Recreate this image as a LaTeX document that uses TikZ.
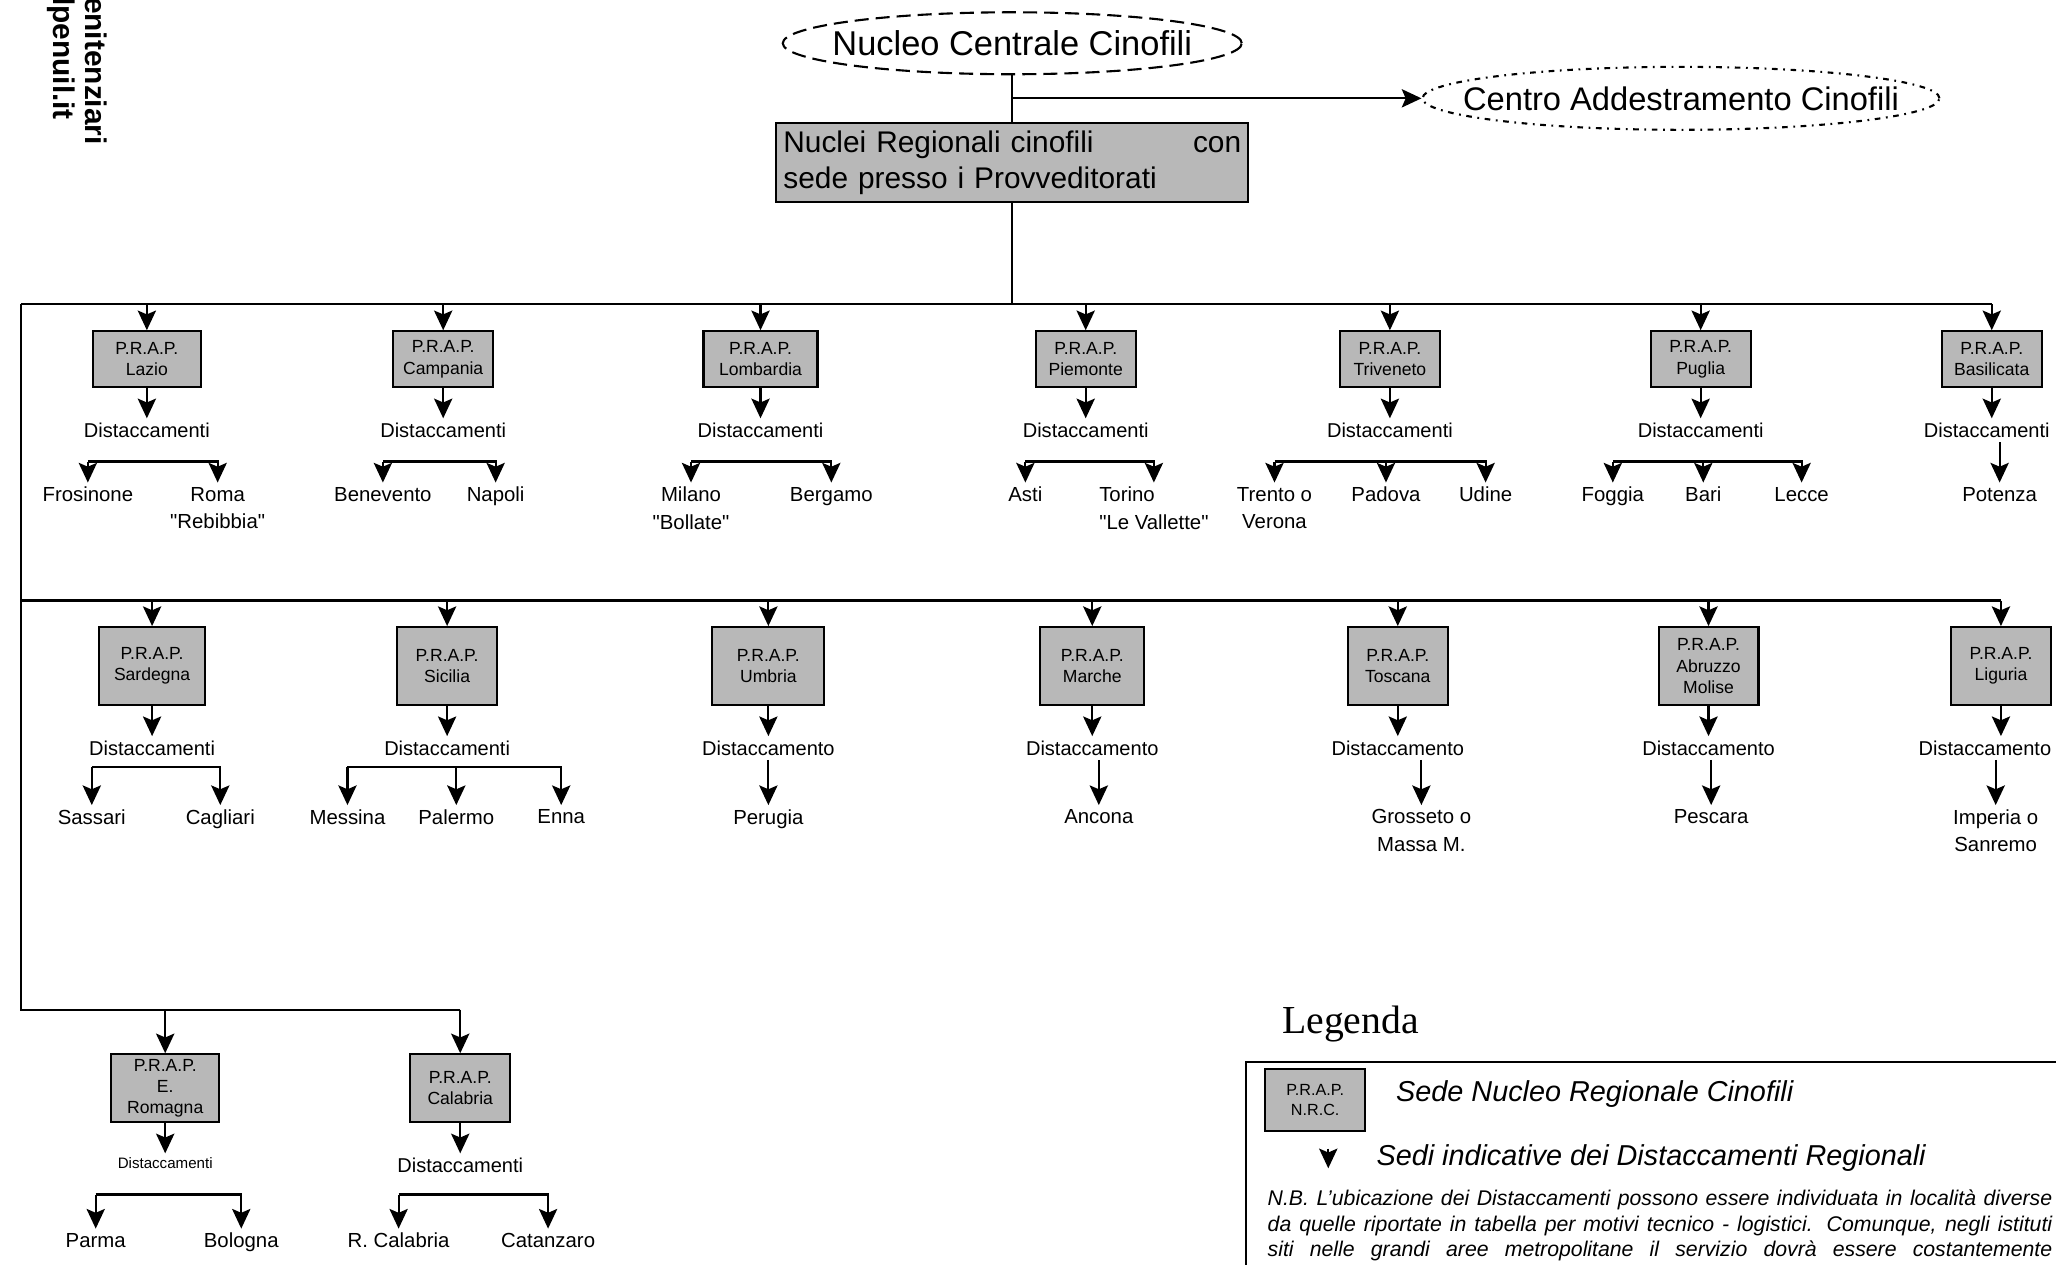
\documentclass[tikz,border=0pt]{standalone}
\usepackage{fontspec}
\setmainfont{Liberation Sans}
\newfontfamily\legendafont{Liberation Serif}
\usetikzlibrary{arrows.meta,positioning,shapes.geometric}

\begin{document}
\begin{tikzpicture}[
  x=0.1312mm, y=-0.1312mm,
  line width=0.6pt,
  arr/.style={-{Stealth[length=5.6pt,width=5.2pt,inset=1.1pt]},line width=0.6pt},
  prap/.style={draw,fill=black!28,align=center,inner sep=1pt,minimum width=1.0cm,minimum height=0.56cm,font=\fontsize{5}{6}\selectfont},
  tall/.style={minimum height=0.78cm},
  mid/.style={minimum height=0.68cm},
  dist/.style={inner sep=1pt,font=\fontsize{5.7}{7}\selectfont},
  city/.style={anchor=north,align=center,inner sep=1pt,font=\fontsize{5.8}{7.8}\selectfont},
  ell/.style={ellipse,draw,inner ysep=0pt},
  wmark/.style={rotate=-90,anchor=west,inner sep=0pt,font=\bfseries\fontsize{8.5}{10}\selectfont},
  node distance=0.3cm
]
\useasboundingbox (0,0) rectangle (1568,964);
\clip (0,0) rectangle (1568,964);

\node[wmark] (wm1) at (73,-3) {enitenziari};
\node[wmark] (wm2) at (47,-3) {lpenuil.it};

\node[ell,inner xsep=-5pt,dash pattern=on 4pt off 2pt,minimum height=0.62cm,font=\fontsize{9.8}{12}\selectfont] (ncc) at (772,33) {Nucleo Centrale Cinofili};
\node[ell,inner xsep=-10pt,dash pattern=on 1.6pt off 1.6pt on 0.5pt off 1.6pt,minimum height=0.63cm,font=\fontsize{9.3}{11}\selectfont] (cac) at (1282,75) {Centro Addestramento Cinofili};
\node[draw,fill=black!28,text width=4.58cm,minimum height=0.72cm,inner sep=2pt,align=left,font=\fontsize{8.5}{10.4}\selectfont] (nrc) at (772,124) {Nuclei Regionali cinofili\hfill con\\sede presso i Provveditorati};
\draw (ncc) -- (nrc);
\coordinate (cacj) at (ncc.south |- cac.west);
\draw[arr] (cacj) -- (cac);

\coordinate (bus1w) at (16,232);
\coordinate (bus2w) at (16,458);
\coordinate (bus3w) at (16,770);
\coordinate (sub1) at (0,352);
\coordinate (sub2) at (0,585);
\coordinate (sub3) at (0,911);

\node[prap,minimum width=1.08cm] (lazio) at (112,274) {P.R.A.P.\\Lazio};
\node[prap] (campania) at (338,274) {P.R.A.P.\\Campania};
\node[prap,minimum width=1.14cm] (lombardia) at (580,274) {P.R.A.P.\\Lombardia};
\node[prap] (piemonte) at (828,274) {P.R.A.P.\\Piemonte};
\node[prap] (triveneto) at (1060,274) {P.R.A.P.\\Triveneto};
\node[prap] (puglia) at (1297,274) {P.R.A.P.\\Puglia};
\node[prap] (basilicata) at (1519,274) {P.R.A.P.\\Basilicata};

\node[dist,below=of lazio] (dlazio) {Distaccamenti};
\node[dist,below=of campania] (dcampania) {Distaccamenti};
\node[dist,below=of lombardia] (dlombardia) {Distaccamenti};
\node[dist,below=of piemonte] (dpiemonte) {Distaccamenti};
\node[dist,below=of triveneto] (dtriveneto) {Distaccamenti};
\node[dist,below=of puglia] (dpuglia) {Distaccamenti};
\node[dist,below=of basilicata,xshift=-0.05cm] (dbasilicata) {Distaccamenti};

\node[city] (frosinone) at (67,368) {Frosinone};
\node[city] (roma) at (166,368) {Roma\\\textquotedbl Rebibbia\textquotedbl};
\node[city] (benevento) at (292,368) {Benevento};
\node[city] (napoli) at (378,368) {Napoli};
\node[city] (milano) at (527,368) {Milano\\\textquotedbl Bollate\textquotedbl};
\node[city] (bergamo) at (634,368) {Bergamo};
\node[city] (asti) at (782,368) {Asti};
\node[city,align=left] (torino) at (880,368) {Torino\\\textquotedbl Le Vallette\textquotedbl};
\node[city] (trento) at (972,368) {Trento o\\Verona};
\node[city] (padova) at (1057,368) {Padova};
\node[city] (udine) at (1133,368) {Udine};
\node[city] (foggia) at (1230,368) {Foggia};
\node[city] (bari) at (1299,368) {Bari};
\node[city] (lecce) at (1374,368) {Lecce};
\node[city] (potenza) at (1525,368) {Potenza};

\node[prap,tall,minimum width=1.06cm] (sardegna) at (116,508) {P.R.A.P.\\Sardegna};
\node[prap,tall] (sicilia) at (341,508) {P.R.A.P.\\Sicilia};
\node[prap,tall,minimum width=1.12cm] (umbria) at (586,508) {P.R.A.P.\\Umbria};
\node[prap,tall,minimum width=1.04cm] (marche) at (833,508) {P.R.A.P.\\Marche};
\node[prap,tall] (toscana) at (1066,508) {P.R.A.P.\\Toscana};
\node[prap,tall] (abruzzo) at (1303,508) {P.R.A.P.\\Abruzzo\\Molise};
\node[prap,tall] (liguria) at (1526,508) {P.R.A.P.\\Liguria};

\node[dist,below=of sardegna] (dsardegna) {Distaccamenti};
\node[dist,below=of sicilia] (dsicilia) {Distaccamenti};
\node[dist,below=of umbria] (dumbria) {Distaccamento};
\node[dist,below=of marche] (dmarche) {Distaccamento};
\node[dist,below=of toscana] (dtoscana) {Distaccamento};
\node[dist,below=of abruzzo] (dabruzzo) {Distaccamento};
\node[dist,below=of liguria,xshift=-0.16cm] (dliguria) {Distaccamento};

\node[city] (sassari) at (70,614) {Sassari};
\node[city] (cagliari) at (168,614) {Cagliari};
\node[city] (messina) at (265,614) {Messina};
\node[city] (palermo) at (348,614) {Palermo};
\node[city] (enna) at (428,614) {Enna};
\node[city] (perugia) at (586,614) {Perugia};
\node[city] (ancona) at (838,614) {Ancona};
\node[city] (grosseto) at (1084,614) {Grosseto o\\Massa M.};
\node[city] (pescara) at (1305,614) {Pescara};
\node[city] (imperia) at (1522,614) {Imperia o\\Sanremo};

\node[prap,mid,minimum width=1.08cm] (eromagna) at (126,830) {P.R.A.P.\\E.\\Romagna};
\node[prap,mid] (calabria) at (351,830) {P.R.A.P.\\Calabria};
\node[dist,below=of eromagna,font=\fontsize{4.3}{5}\selectfont] (deromagna) {Distaccamenti};
\node[dist,below=of calabria] (dcalabria) {Distaccamenti};
\node[city] (parma) at (73,937) {Parma};
\node[city] (bologna) at (184,937) {Bologna};
\node[city] (rcalabria) at (304,937) {R. Calabria};
\node[city] (catanzaro) at (418,937) {Catanzaro};

\draw (nrc) -- (nrc |- bus1w);
\draw (bus1w) -- (basilicata |- bus1w);
\draw (bus1w) -- (bus3w) -- (calabria |- bus3w);
\draw (bus2w) -- (liguria |- bus2w);

\draw[arr] (lazio |- bus1w) -- (lazio);
\draw[arr] (campania |- bus1w) -- (campania);
\draw[arr] (lombardia |- bus1w) -- (lombardia);
\draw[arr] (piemonte |- bus1w) -- (piemonte);
\draw[arr] (triveneto |- bus1w) -- (triveneto);
\draw[arr] (puglia |- bus1w) -- (puglia);
\draw[arr] (basilicata |- bus1w) -- (basilicata);
\draw[arr] (sardegna |- bus2w) -- (sardegna);
\draw[arr] (sicilia |- bus2w) -- (sicilia);
\draw[arr] (umbria |- bus2w) -- (umbria);
\draw[arr] (marche |- bus2w) -- (marche);
\draw[arr] (toscana |- bus2w) -- (toscana);
\draw[arr] (abruzzo |- bus2w) -- (abruzzo);
\draw[arr] (liguria |- bus2w) -- (liguria);
\draw[arr] (eromagna |- bus3w) -- (eromagna);
\draw[arr] (calabria |- bus3w) -- (calabria);

\draw[arr] (lazio) -- (dlazio);
\draw[arr] (campania) -- (dcampania);
\draw[arr] (lombardia) -- (dlombardia);
\draw[arr] (piemonte) -- (dpiemonte);
\draw[arr] (triveneto) -- (dtriveneto);
\draw[arr] (puglia) -- (dpuglia);
\draw[arr] (basilicata) -- (basilicata |- dbasilicata.north);
\draw[arr] (sardegna) -- (dsardegna);
\draw[arr] (sicilia) -- (dsicilia);
\draw[arr] (umbria) -- (dumbria);
\draw[arr] (marche) -- (dmarche);
\draw[arr] (toscana) -- (dtoscana);
\draw[arr] (abruzzo) -- (dabruzzo);
\draw[arr] (liguria) -- (liguria |- dliguria.north);
\draw[arr] (eromagna) -- (deromagna);
\draw[arr] (calabria) -- (dcalabria);

\draw[arr] (frosinone |- sub1) -- (frosinone);
\draw[arr] (frosinone |- sub1) -| (roma);
\draw[arr] (benevento |- sub1) -- (benevento);
\draw[arr] (benevento |- sub1) -| (napoli);
\draw[arr] (milano |- sub1) -- (milano);
\draw[arr] (milano |- sub1) -| (bergamo);
\draw[arr] (asti |- sub1) -- (asti);
\draw[arr] (asti |- sub1) -| (torino);
\draw[arr] (trento |- sub1) -- (trento);
\draw[arr] (trento |- sub1) -| (udine);
\draw[arr] (padova |- sub1) -- (padova);
\draw[arr] (foggia |- sub1) -- (foggia);
\draw[arr] (foggia |- sub1) -| (lecce);
\draw[arr] (bari |- sub1) -- (bari);
\draw[arr] (potenza |- dbasilicata.south) -- (potenza);

\draw[arr] (sassari |- sub2) -- (sassari);
\draw[arr] (sassari |- sub2) -| (cagliari);
\draw[arr] (messina |- sub2) -- (messina);
\draw[arr] (messina |- sub2) -| (enna);
\draw[arr] (palermo |- sub2) -- (palermo);
\draw[arr] (perugia |- dumbria.south) -- (perugia);
\draw[arr] (ancona |- dmarche.south) -- (ancona);
\draw[arr] (grosseto |- dtoscana.south) -- (grosseto);
\draw[arr] (pescara |- dabruzzo.south) -- (pescara);
\draw[arr] (imperia |- dliguria.south) -- (imperia);

\draw[arr] (parma |- sub3) -- (parma);
\draw[arr] (parma |- sub3) -| (bologna);
\draw[arr] (rcalabria |- sub3) -- (rcalabria);
\draw[arr] (rcalabria |- sub3) -| (catanzaro);

\node[font=\legendafont\fontsize{11.3}{13}\selectfont] (lgtitle) at (1030,781) {Legenda};
\coordinate (lgne) at (1575,810);
\coordinate (lgnw) at (950,810);
\coordinate (lgsw) at (950,970);
\draw (lgne) -- (lgnw) -- (lgsw);
\node[prap,minimum height=0.62cm,font=\fontsize{4.6}{5.6}\selectfont] (lgbox) at (1003,839) {P.R.A.P.\\N.R.C.};
\node[anchor=west,inner sep=0pt,font=\itshape\fontsize{8.2}{10}\selectfont] (lgsede) at (1064,834) {Sede Nucleo Regionale Cinofili};
\coordinate (lga1) at (1013,876);
\coordinate (lga2) at (1013,891);
\draw[arr] (lga1) -- (lga2);
\node[anchor=west,inner sep=0pt,font=\itshape\fontsize{8.2}{10}\selectfont] (lgsedi) at (1049,883) {Sedi indicative dei Distaccamenti Regionali};
\node[anchor=north west,inner sep=0pt,text width=7.85cm,align=justify,font=\itshape\fontsize{6.05}{7.2}\selectfont] (lgnb) at (966,907) {{\parfillskip=0pt N.B. L'ubicazione dei Distaccamenti possono essere individuata in località diverse\linebreak da quelle riportate in tabella per motivi tecnico - logistici. Comunque, negli istituti\linebreak siti nelle grandi aree metropolitane il servizio dovrà essere costantemente\par}};
\end{tikzpicture}
\end{document}
